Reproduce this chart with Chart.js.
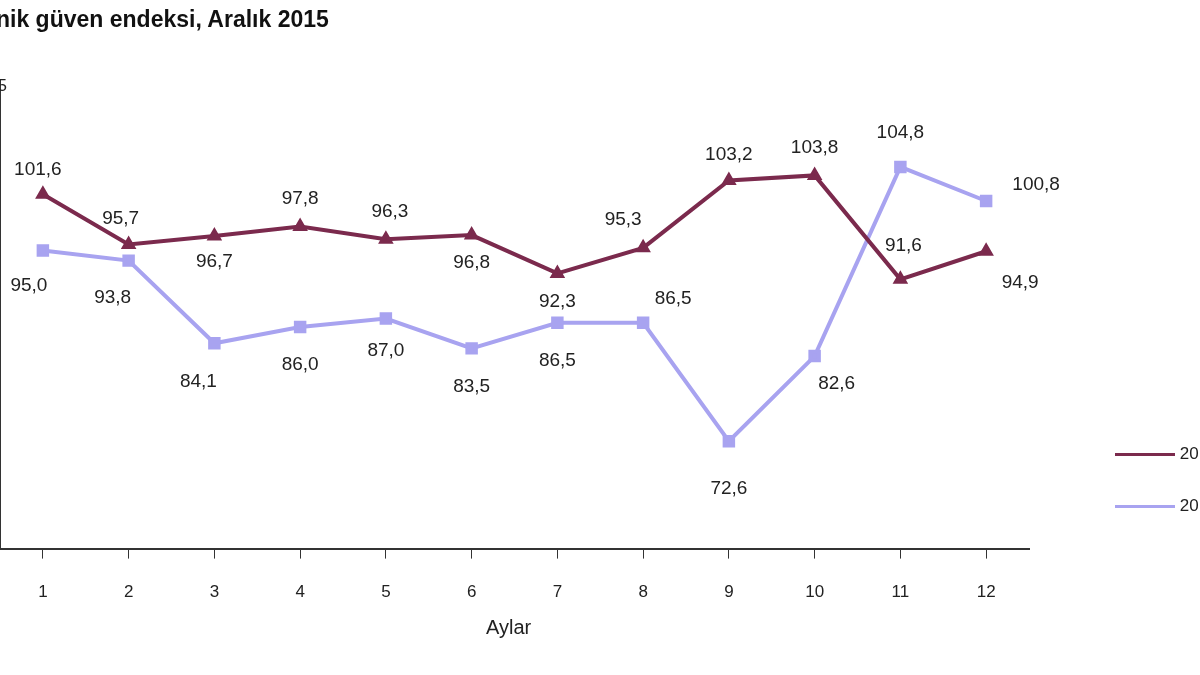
<!DOCTYPE html>
<html><head><meta charset="utf-8">
<script src="https://cdn.jsdelivr.net/npm/chart.js@4"></script>
<style>
html,body{margin:0;padding:0;width:1200px;height:675px;overflow:hidden;background:#fff;font-family:"Liberation Sans",Arial,sans-serif;}
#wrap{position:absolute;left:-10px;top:0;width:1300px;height:675px;}
#title{position:absolute;left:-4px;top:6px;font-weight:bold;font-size:23px;color:#111;white-space:nowrap;}
#yl{position:absolute;left:-12px;top:76px;font-size:17px;color:#222;}
#xt{position:absolute;left:486px;top:616px;font-size:20px;color:#222;}
.lg{position:absolute;left:1115px;font-size:17px;color:#222;white-space:nowrap;}
</style></head><body>
<div id="wrap"><canvas id="c" width="1300" height="675"></canvas></div>
<div id="title">nik güven endeksi, Aralık 2015</div>
<div id="yl">15</div>
<div id="xt">Aylar</div>
<div class="lg" style="top:444px"><span style="display:inline-block;width:60px;height:3px;background:#7b2a4d;vertical-align:middle"></span> 2015</div>
<div class="lg" style="top:496px"><span style="display:inline-block;width:60px;height:3px;background:#a8a3f0;vertical-align:middle"></span> 2014</div>
<script>
const months=["1","2","3","4","5","6","7","8","9","10","11","12"];
const seriesA=[101.6,95.7,96.7,97.8,96.3,96.8,92.3,95.3,103.2,103.8,91.6,94.9];
const seriesB=[95.0,93.8,84.1,86.0,87.0,83.5,86.5,86.5,72.6,82.6,104.8,100.8];
const offA=[[-5,-24],[-8,-26],[0,26],[0,-28],[4,-28],[0,28],[0,28],[-20,-28],[0,-26],[0,-28],[3,-34],[34,32]];
const offB=[[-14,35],[-16,37],[-16,38],[0,38],[0,32],[0,38],[0,38],[30,-24],[0,48],[22,28],[0,-34],[50,-16]];
const labels={id:'lbl',afterDatasetsDraw(ch){const ctx=ch.ctx;ctx.save();ctx.font='19px "Liberation Sans", Arial';ctx.fillStyle='#222';ctx.textAlign='center';ctx.textBaseline='middle';
[[0,offA],[1,offB]].forEach(([di,off])=>{ch.getDatasetMeta(di).data.forEach((p,i)=>{const v=ch.data.datasets[di].data[i];ctx.fillText(v.toFixed(1).replace('.',','),p.x+off[i][0],p.y+off[i][1]);});});ctx.restore();}};
new Chart(document.getElementById('c'),{type:'line',
data:{labels:months,datasets:[
{label:'2015',data:seriesA,borderColor:'#7b2a4d',backgroundColor:'#7b2a4d',borderWidth:4,pointStyle:'triangle',pointRadius:5,tension:0},
{label:'2014',data:seriesB,borderColor:'#a8a3f0',backgroundColor:'#a8a3f0',borderWidth:4,pointStyle:'rect',pointRadius:6,tension:0}]},
options:{responsive:false,animation:false,layout:{padding:{left:0,right:261,top:80,bottom:48}},
plugins:{legend:{display:false},tooltip:{enabled:false}},
scales:{x:{offset:true,grid:{display:true,drawOnChartArea:false,tickLength:10,color:'#333',offset:false},border:{color:'#333',width:2},ticks:{font:{size:17,family:'"Liberation Sans", Arial'},color:'#222',padding:24}},
y:{min:60,max:115,grid:{display:false},border:{color:'#333',width:2},ticks:{display:false}}}},
plugins:[labels]});
</script></body></html>
